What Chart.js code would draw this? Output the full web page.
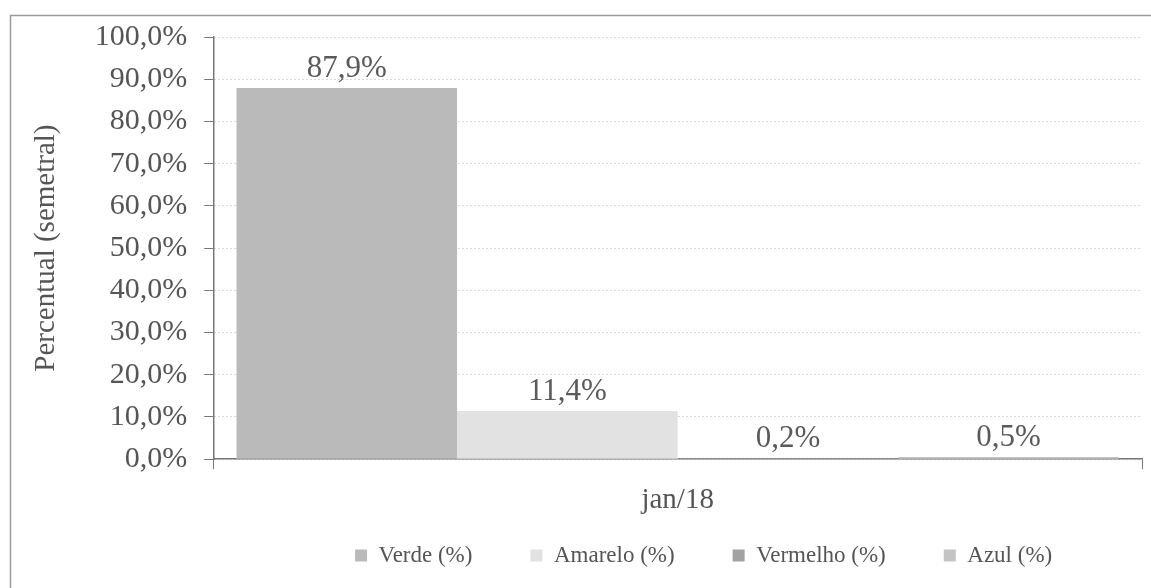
<!DOCTYPE html>
<html>
<head>
<meta charset="utf-8">
<script src="https://cdn.jsdelivr.net/npm/chart.js@4"></script>
<style>
  html, body { margin: 0; padding: 0; background: #fff; }
  #wrap { width: 1151px; height: 588px; }
</style>
</head>
<body>
<div id="wrap"><canvas id="grafico"></canvas></div>
<script>
const categorias = ['jan/18'];
const series = ['Verde (%)', 'Amarelo (%)', 'Vermelho (%)', 'Azul (%)'];
const valores = [87.9, 11.4, 0.2, 0.5];
const cores = ['#bababa', '#e2e2e2', '#a2a2a2', '#c4c4c4'];

const fmt = v => v.toFixed(1).replace('.', ',') + '%';
const serif = '"Liberation Serif", "Times New Roman", serif';

// moldura do gráfico (só esquerda e topo aparecem no recorte)
const moldura = {
  id: 'moldura',
  afterLayout(chart) {
    // a legenda no original fica um pouco à direita do centro
    chart.legend.left += 49;
    chart.legend.right += 49;
  },
  beforeDraw(chart) {
    const ctx = chart.ctx;
    ctx.save();
    ctx.strokeStyle = '#9a9a9a';
    ctx.lineWidth = 1.5;
    ctx.beginPath();
    ctx.moveTo(10.5, chart.height);
    ctx.lineTo(10.5, 15.5);
    ctx.lineTo(chart.width, 15.5);
    ctx.stroke();
    ctx.restore();
  }
};

// rótulos de valor em cima das barras
const rotulos = {
  id: 'rotulos',
  afterDatasetsDraw(chart) {
    const ctx = chart.ctx;
    ctx.save();
    ctx.font = '31px ' + serif;
    ctx.fillStyle = '#5a5a5a';
    ctx.textAlign = 'center';
    ctx.textBaseline = 'middle';
    chart.data.datasets.forEach((ds, i) => {
      const meta = chart.getDatasetMeta(i);
      meta.data.forEach((bar, j) => {
        ctx.fillText(fmt(ds.data[j]), bar.x, bar.y - 19);
      });
    });
    ctx.restore();
  }
};

const datasets = series.map((nome, i) => ({
  label: nome,
  data: [valores[i]],
  backgroundColor: cores[i],
  borderWidth: 0
}));

new Chart(document.getElementById('grafico'), {
  type: 'bar',
  data: { labels: categorias, datasets },
  options: {
    responsive: true,
    maintainAspectRatio: false,
    animation: false,
    layout: { padding: { left: 29, right: 9, top: 37, bottom: 11 } },
    datasets: { bar: { categoryPercentage: 0.95, barPercentage: 1.0 } },
    scales: {
      y: {
        min: 0,
        max: 100,
        ticks: {
          stepSize: 10,
          callback: v => fmt(v),
          font: { family: serif, size: 30 },
          color: '#555',
          padding: 17
        },
        grid: {
          color: '#b4b4b4',
          tickColor: '#777',
          tickLength: 9,
          tickBorderDash: []
        },
        border: { color: '#777', width: 1.5, dash: [1, 3] },
        title: {
          display: true,
          text: 'Percentual (semetral)',
          font: { family: serif, size: 29 },
          color: '#555',
          padding: { top: 0, bottom: 14 }
        }
      },
      x: {
        ticks: {
          font: { family: serif, size: 29 },
          color: '#555',
          padding: 14
        },
        grid: {
          drawOnChartArea: false,
          tickColor: '#777',
          tickLength: 10
        },
        border: { color: '#777', width: 1.5 }
      }
    },
    plugins: {
      legend: {
        position: 'bottom',
        fullSize: false,
        labels: {
          font: { family: serif, size: 23 },
          color: '#555',
          boxWidth: 12,
          boxHeight: 12,
          padding: 12,
          // espaço extra entre os itens, como no original
          generateLabels(chart) {
            const itens = Chart.defaults.plugins.legend.labels.generateLabels(chart);
            itens.forEach(it => { it.text = it.text + '\u2002\u2002\u2002\u2002'; });
            return itens;
          }
        }
      },
      tooltip: { enabled: false }
    }
  },
  plugins: [moldura, rotulos]
});
</script>
</body>
</html>
